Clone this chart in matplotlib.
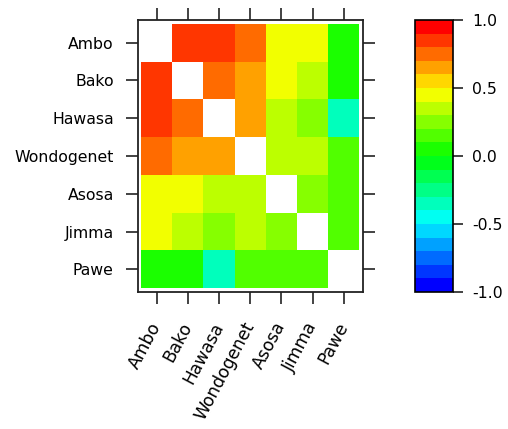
import numpy as np
import matplotlib
matplotlib.use("Agg")
import matplotlib.pyplot as plt
from matplotlib.colors import LinearSegmentedColormap

# correlation between sites (diagonal left blank)
sites = ['Ambo', 'Bako', 'Hawasa', 'Wondogenet', 'Asosa', 'Jimma', 'Pawe']
ambo       = [np.nan, 0.85, 0.85, 0.75, 0.45, 0.45, 0.05]
bako       = [0.85, np.nan, 0.75, 0.65, 0.45, 0.35, 0.05]
hawasa     = [0.85, 0.75, np.nan, 0.65, 0.35, 0.25, -0.35]
wondogenet = [0.75, 0.65, 0.65, np.nan, 0.35, 0.35, 0.15]
asosa      = [0.45, 0.45, 0.35, 0.35, np.nan, 0.25, 0.15]
jimma      = [0.45, 0.35, 0.25, 0.35, 0.25, np.nan, 0.15]
pawe       = [0.05, 0.05, -0.35, 0.15, 0.15, 0.15, np.nan]
cbar_ticks = [-1.0, -0.5, 0.0, 0.5, 1.0]

corr = np.array([ambo, bako, hawasa, wondogenet, asosa, jimma, pawe])
n = len(sites)

plt.rcParams['font.family'] = 'DejaVu Sans'
plt.rcParams['font.size'] = 11.3

cmap = LinearSegmentedColormap.from_list(
    'lv', ['#0000FF', '#00FFFF', '#00FF00', '#FFFF00', '#FF0000'], N=20)

fig = plt.figure(figsize=(5.08, 4.29), dpi=100)
ax = fig.add_axes([138/508, 1 - 292/429, 225/508, 272/429])
cax = fig.add_axes([415/508, 1 - 292/429, 38/508, 272/429])

edges = np.arange(n + 1) + 0.5
mesh = ax.pcolormesh(edges, edges, corr, cmap=cmap, vmin=-1, vmax=1)
ax.set_xlim(0.4, n + 0.62)
ax.set_ylim(n + 0.6, 0.4)

ax.set_xticks(np.arange(1, n + 1))
ax.set_yticks(np.arange(1, n + 1))
ax.set_xticklabels(sites, rotation=62, ha='right', va='center',
                   rotation_mode='anchor', fontsize=12.3)
ax.set_yticklabels(sites)
ax.tick_params(axis='both', direction='out', length=8.5, width=1.2,
               top=True, right=True, color='#222222')
ax.tick_params(axis='x', pad=14)
ax.tick_params(axis='y', pad=9)
for s in ax.spines.values():
    s.set_linewidth(1.3)
    s.set_color('#222222')

cb = fig.colorbar(mesh, cax=cax)
cb.set_ticks(cbar_ticks)
cb.set_ticklabels(['%.1f' % t for t in cbar_ticks])
cb.ax.tick_params(length=7, width=1.2, pad=7, color='#222222')
cb.outline.set_linewidth(1.2)

fig.savefig('out.png', dpi=100)
